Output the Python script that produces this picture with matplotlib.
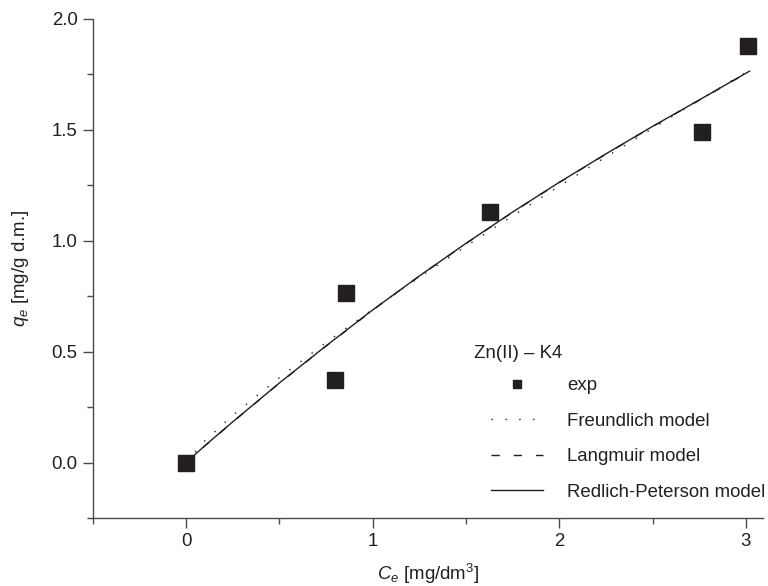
import numpy as np
import matplotlib
matplotlib.use("Agg")
import matplotlib.pyplot as plt
from matplotlib.ticker import MultipleLocator

plt.rcParams['font.family'] = ['Liberation Sans', 'DejaVu Sans']
plt.rcParams['mathtext.fontset'] = 'custom'
plt.rcParams['mathtext.rm'] = 'Liberation Sans'
plt.rcParams['mathtext.it'] = 'Liberation Sans:italic'

# experimental points
ce_exp = [0.0, 0.80, 0.857, 1.63, 2.765, 3.01]
qe_exp = [0.0, 0.37, 0.765, 1.13, 1.49, 1.878]

# model curves
ce_fit = [0.0, 0.1, 0.25, 0.5, 0.75, 1.0, 1.25, 1.5, 1.75, 2.0, 2.25, 2.5, 2.75, 3.02]
q_freundlich = [0.0, 0.098, 0.213, 0.383, 0.541, 0.691, 0.835, 0.975, 1.112, 1.246, 1.377, 1.506, 1.633, 1.768]
q_langmuir = [0.0, 0.075, 0.183, 0.358, 0.525, 0.687, 0.840, 0.987, 1.128, 1.262, 1.390, 1.514, 1.633, 1.763]
q_rp = [0.0, 0.076, 0.184, 0.359, 0.526, 0.688, 0.841, 0.988, 1.129, 1.263, 1.391, 1.515, 1.634, 1.764]

ink = '#231f20'
axc = '#4a4a4a'
fs = 13.4

fig = plt.figure(figsize=(7.68, 5.86), dpi=100)
ax = fig.add_axes([0.121, 0.116, 0.872, 0.852])

ax.plot(ce_fit, q_freundlich, color=ink, lw=1.0, ls=(0, (1, 9)), label='Freundlich model')
ax.plot(ce_fit, q_langmuir, color=ink, lw=1.0, ls=(0, (6, 10)), label='Langmuir model')
ax.plot(ce_fit, q_rp, color=ink, lw=1.0, ls='-', label='Redlich-Peterson model')
ax.plot(ce_exp, qe_exp, ls='none', marker='s', ms=11, color=ink, label='exp', zorder=5)

ax.set_xlim(-0.5, 3.09)
ax.set_ylim(-0.25, 2.0)
ax.xaxis.set_major_locator(MultipleLocator(1))
ax.xaxis.set_minor_locator(MultipleLocator(0.5))
ax.yaxis.set_major_locator(MultipleLocator(0.5))
ax.yaxis.set_minor_locator(MultipleLocator(0.25))
ax.yaxis.set_major_formatter(plt.FuncFormatter(lambda v, p: f'{v:.1f}'))
ax.xaxis.set_major_formatter(plt.FuncFormatter(lambda v, p: f'{v:.0f}'))

for s in ['top', 'right']:
    ax.spines[s].set_visible(False)
for s in ['left', 'bottom']:
    ax.spines[s].set_color(axc)
    ax.spines[s].set_linewidth(1.0)
ax.tick_params(which='major', direction='out', length=7, width=1.0, color=axc,
               labelsize=fs, labelcolor=ink, pad=4)
ax.tick_params(which='minor', direction='out', length=4, width=1.0, color=axc)

ax.set_xlabel(r'$C_e$ [mg/dm$^{\mathrm{3}}$]', fontsize=fs, color=ink, labelpad=8)
ax.set_ylabel(r'$q_e$ [mg/g d.m.]', fontsize=fs, color=ink, labelpad=15)

h, l = ax.get_legend_handles_labels()
order = [3, 0, 1, 2]
leg = ax.legend([h[i] for i in order], [l[i] for i in order],
                loc='upper left', bbox_to_anchor=(0.569, 0.316), frameon=False,
                fontsize=fs, handlelength=2.8, handletextpad=1.3, labelspacing=1.0,
                markerscale=0.55, borderpad=0.4)
for t in leg.get_texts():
    t.set_color(ink)
ax.text(0.569, 0.329, 'Zn(II) – K4', transform=ax.transAxes, fontsize=fs,
        color=ink, ha='left', va='center')

fig.savefig('out.png', dpi=100)
